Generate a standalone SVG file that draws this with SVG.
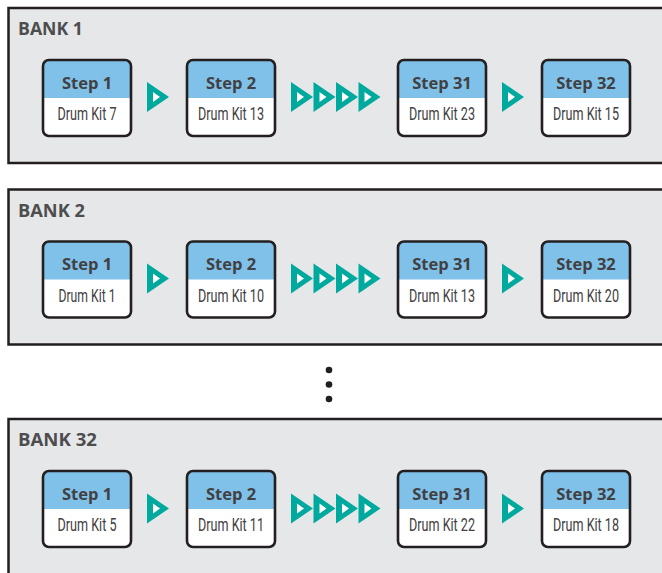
<svg xmlns="http://www.w3.org/2000/svg" xmlns:xlink="http://www.w3.org/1999/xlink" width="662" height="573" viewBox="0 0 662 573">
<style>
.bank{fill:#e6e7e8;stroke:#231f20;stroke-width:2.5}
.body{fill:#ffffff}
.head{fill:#80c1e9}
.frame{fill:none;stroke:#231f20;stroke-width:2.6}
.bl{font-family:"Open Sans","Liberation Sans",sans-serif;font-weight:700;font-size:18px;fill:#4d4d4f}
.st{font-family:"Open Sans","Liberation Sans",sans-serif;font-weight:700;font-size:16.5px;fill:#414042;text-anchor:middle}
.dk{font-family:Roboto,"Liberation Sans",sans-serif;font-size:17.5px;fill:#414042;text-anchor:middle}
.dot{fill:#231f20}
</style>
<defs>
<g id="arr">
<polygon points="0,-15 22,0 0,15" fill="#00a99d"/>
<polygon points="6,-5 13,0 6,5" fill="#ffffff"/>
</g>
</defs>

<!-- BANK 1 -->
<g id="bank1">
<rect class="bank" x="8.5" y="8" width="670" height="155"/>
<text class="bl" x="18" y="35" textLength="65" lengthAdjust="spacingAndGlyphs">BANK 1</text>
</g>
<g id="b1s1">
<rect class="body" x="43" y="60" width="88" height="76" rx="6"/>
<path class="head" d="M43 98 V66 A6 6 0 0 1 49 60 H125 A6 6 0 0 1 131 66 V98 Z"/>
<rect class="frame" x="43" y="60" width="88" height="76" rx="6"/>
<text class="st" x="87" y="88.5">Step 1</text>
<text class="dk" x="87" y="120" textLength="59" lengthAdjust="spacingAndGlyphs">Drum Kit 7</text>
</g>
<g id="b1s2">
<rect class="body" x="187" y="60" width="88" height="76" rx="6"/>
<path class="head" d="M187 98 V66 A6 6 0 0 1 193 60 H269 A6 6 0 0 1 275 66 V98 Z"/>
<rect class="frame" x="187" y="60" width="88" height="76" rx="6"/>
<text class="st" x="231" y="88.5">Step 2</text>
<text class="dk" x="231" y="120" textLength="66" lengthAdjust="spacingAndGlyphs">Drum Kit 13</text>
</g>
<g id="b1s31">
<rect class="body" x="398" y="60" width="88" height="76" rx="6"/>
<path class="head" d="M398 98 V66 A6 6 0 0 1 404 60 H480 A6 6 0 0 1 486 66 V98 Z"/>
<rect class="frame" x="398" y="60" width="88" height="76" rx="6"/>
<text class="st" x="442" y="88.5">Step 31</text>
<text class="dk" x="442" y="120" textLength="66" lengthAdjust="spacingAndGlyphs">Drum Kit 23</text>
</g>
<g id="b1s32">
<rect class="body" x="542" y="60" width="88" height="76" rx="6"/>
<path class="head" d="M542 98 V66 A6 6 0 0 1 548 60 H624 A6 6 0 0 1 630 66 V98 Z"/>
<rect class="frame" x="542" y="60" width="88" height="76" rx="6"/>
<text class="st" x="586" y="88.5">Step 32</text>
<text class="dk" x="586" y="120" textLength="66" lengthAdjust="spacingAndGlyphs">Drum Kit 15</text>
</g>

<!-- BANK 2 -->
<g id="bank2">
<rect class="bank" x="8.5" y="189.5" width="670" height="155"/>
<text class="bl" x="18" y="216.5" textLength="67" lengthAdjust="spacingAndGlyphs">BANK 2</text>
</g>
<g id="b2s1">
<rect class="body" x="43" y="241.5" width="88" height="76" rx="6"/>
<path class="head" d="M43 279.5 V247.5 A6 6 0 0 1 49 241.5 H125 A6 6 0 0 1 131 247.5 V279.5 Z"/>
<rect class="frame" x="43" y="241.5" width="88" height="76" rx="6"/>
<text class="st" x="87" y="270">Step 1</text>
<text class="dk" x="87" y="301.5" textLength="57" lengthAdjust="spacingAndGlyphs">Drum Kit 1</text>
</g>
<g id="b2s2">
<rect class="body" x="187" y="241.5" width="88" height="76" rx="6"/>
<path class="head" d="M187 279.5 V247.5 A6 6 0 0 1 193 241.5 H269 A6 6 0 0 1 275 247.5 V279.5 Z"/>
<rect class="frame" x="187" y="241.5" width="88" height="76" rx="6"/>
<text class="st" x="231" y="270">Step 2</text>
<text class="dk" x="231" y="301.5" textLength="66" lengthAdjust="spacingAndGlyphs">Drum Kit 10</text>
</g>
<g id="b2s31">
<rect class="body" x="398" y="241.5" width="88" height="76" rx="6"/>
<path class="head" d="M398 279.5 V247.5 A6 6 0 0 1 404 241.5 H480 A6 6 0 0 1 486 247.5 V279.5 Z"/>
<rect class="frame" x="398" y="241.5" width="88" height="76" rx="6"/>
<text class="st" x="442" y="270">Step 31</text>
<text class="dk" x="442" y="301.5" textLength="66" lengthAdjust="spacingAndGlyphs">Drum Kit 13</text>
</g>
<g id="b2s32">
<rect class="body" x="542" y="241.5" width="88" height="76" rx="6"/>
<path class="head" d="M542 279.5 V247.5 A6 6 0 0 1 548 241.5 H624 A6 6 0 0 1 630 247.5 V279.5 Z"/>
<rect class="frame" x="542" y="241.5" width="88" height="76" rx="6"/>
<text class="st" x="586" y="270">Step 32</text>
<text class="dk" x="586" y="301.5" textLength="66" lengthAdjust="spacingAndGlyphs">Drum Kit 20</text>
</g>

<!-- ellipsis -->
<g id="ellipsis">
<circle class="dot" cx="329" cy="370" r="3.3"/>
<circle class="dot" cx="329" cy="384.5" r="3.3"/>
<circle class="dot" cx="329" cy="399" r="3.3"/>
</g>

<!-- BANK 32 -->
<g id="bank32">
<rect class="bank" x="8.5" y="419" width="670" height="200"/>
<text class="bl" x="18" y="446" textLength="79" lengthAdjust="spacingAndGlyphs">BANK 32</text>
</g>
<g id="b32s1">
<rect class="body" x="43" y="471" width="88" height="76" rx="6"/>
<path class="head" d="M43 509 V477 A6 6 0 0 1 49 471 H125 A6 6 0 0 1 131 477 V509 Z"/>
<rect class="frame" x="43" y="471" width="88" height="76" rx="6"/>
<text class="st" x="87" y="499.5">Step 1</text>
<text class="dk" x="87" y="531" textLength="59" lengthAdjust="spacingAndGlyphs">Drum Kit 5</text>
</g>
<g id="b32s2">
<rect class="body" x="187" y="471" width="88" height="76" rx="6"/>
<path class="head" d="M187 509 V477 A6 6 0 0 1 193 471 H269 A6 6 0 0 1 275 477 V509 Z"/>
<rect class="frame" x="187" y="471" width="88" height="76" rx="6"/>
<text class="st" x="231" y="499.5">Step 2</text>
<text class="dk" x="231" y="531" textLength="66" lengthAdjust="spacingAndGlyphs">Drum Kit 11</text>
</g>
<g id="b32s31">
<rect class="body" x="398" y="471" width="88" height="76" rx="6"/>
<path class="head" d="M398 509 V477 A6 6 0 0 1 404 471 H480 A6 6 0 0 1 486 477 V509 Z"/>
<rect class="frame" x="398" y="471" width="88" height="76" rx="6"/>
<text class="st" x="442" y="499.5">Step 31</text>
<text class="dk" x="442" y="531" textLength="66" lengthAdjust="spacingAndGlyphs">Drum Kit 22</text>
</g>
<g id="b32s32">
<rect class="body" x="542" y="471" width="88" height="76" rx="6"/>
<path class="head" d="M542 509 V477 A6 6 0 0 1 548 471 H624 A6 6 0 0 1 630 477 V509 Z"/>
<rect class="frame" x="542" y="471" width="88" height="76" rx="6"/>
<text class="st" x="586" y="499.5">Step 32</text>
<text class="dk" x="586" y="531" textLength="66" lengthAdjust="spacingAndGlyphs">Drum Kit 18</text>
</g>

<!-- connectors -->
<g id="connectors">
<use xlink:href="#arr" href="#arr" x="147" y="97"/>
<use xlink:href="#arr" href="#arr" x="291" y="97"/>
<use xlink:href="#arr" href="#arr" x="313.5" y="97"/>
<use xlink:href="#arr" href="#arr" x="336" y="97"/>
<use xlink:href="#arr" href="#arr" x="358.5" y="97"/>
<use xlink:href="#arr" href="#arr" x="502" y="97"/>

<use xlink:href="#arr" href="#arr" x="147" y="278.5"/>
<use xlink:href="#arr" href="#arr" x="291" y="278.5"/>
<use xlink:href="#arr" href="#arr" x="313.5" y="278.5"/>
<use xlink:href="#arr" href="#arr" x="336" y="278.5"/>
<use xlink:href="#arr" href="#arr" x="358.5" y="278.5"/>
<use xlink:href="#arr" href="#arr" x="502" y="278.5"/>

<use xlink:href="#arr" href="#arr" x="147" y="508.5"/>
<use xlink:href="#arr" href="#arr" x="291" y="508.5"/>
<use xlink:href="#arr" href="#arr" x="313.5" y="508.5"/>
<use xlink:href="#arr" href="#arr" x="336" y="508.5"/>
<use xlink:href="#arr" href="#arr" x="358.5" y="508.5"/>
<use xlink:href="#arr" href="#arr" x="502" y="508.5"/>
</g>
</svg>
